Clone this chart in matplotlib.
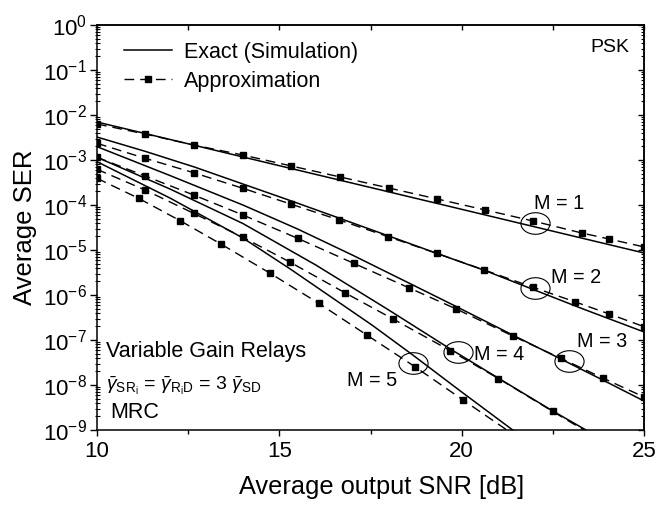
import numpy as np
import matplotlib
matplotlib.use("Agg")
import matplotlib.pyplot as plt
from matplotlib.path import Path
from matplotlib.transforms import Affine2D
from matplotlib.ticker import LogLocator, NullFormatter, FixedLocator

# ---------------- data ----------------
# Exact (simulation) curves
snr_e1 = [10, 12.5, 15, 17.5, 20, 22.5, 25]
ser_e1 = [6.99e-3, 2.29e-3, 7.47e-4, 2.45e-4, 8.02e-5, 2.62e-5, 8.58e-6]

snr_e2 = [10, 11.33, 12.67, 14, 15.33, 16.67, 18, 19.33, 20.67, 22, 23.33, 25]
ser_e2 = [3.24e-3, 1.55e-3, 6.99e-4, 2.93e-4, 1.23e-4, 5.01e-5, 2.05e-5,
          8.36e-6, 3.42e-6, 1.29e-6, 4.89e-7, 1.51e-7]

snr_e3 = [10, 12, 14, 15.5, 17, 18.55, 19.85, 21.4, 22.72, 24, 25]
ser_e3 = [1.98e-3, 4.52e-4, 1.0e-4, 2.93e-5, 7.74e-6, 1.85e-6, 5.55e-7,
          1.29e-7, 3.78e-8, 1.14e-8, 4.41e-9]

snr_e4 = [10, 12, 14, 16, 18, 19.69, 21, 22.5, 23.6]
ser_e4 = [1.15e-3, 2.27e-4, 3.88e-5, 4.64e-6, 4.64e-7, 6.31e-8, 1.43e-8,
          2.64e-9, 8.15e-10]

snr_e5 = [10, 12, 14, 15.3, 17.54, 18.66, 20, 21.4, 21.7]
ser_e5 = [9.17e-4, 1.43e-4, 1.85e-5, 3.78e-6, 2.15e-7, 4.64e-8, 6.99e-9,
          1.0e-9, 6.64e-10]

# Approximation curves (marker points)
snr_a1 = [10, 11.32, 12.65, 14.0, 15.33, 16.67, 18.0, 19.33, 20.65, 21.96,
          23.29, 24.05, 25]
ser_a1 = [6.31e-3, 3.78e-3, 2.15e-3, 1.29e-3, 7.36e-4, 4.19e-4, 2.39e-4,
          1.36e-4, 7.74e-5, 4.41e-5, 2.39e-5, 1.75e-5, 1.17e-5]

snr_a2 = [10, 11.32, 12.65, 14.0, 15.31, 16.64, 17.98, 19.31, 20.62, 21.96,
          23.10, 24.05, 25]
ser_a2 = [2.35e-3, 1.09e-3, 5.22e-4, 2.35e-4, 1.05e-4, 4.64e-5, 1.98e-5,
          8.45e-6, 3.59e-6, 1.48e-6, 7.10e-7, 3.78e-7, 1.98e-7]

snr_a3 = [10, 11.32, 12.65, 14.0, 15.50, 17.04, 18.55, 19.85, 21.40, 22.72,
          23.87, 25]
ser_a3 = [1.15e-3, 4.41e-4, 1.67e-4, 6.0e-5, 1.82e-5, 5.06e-6, 1.45e-6,
          4.89e-7, 1.23e-7, 3.92e-8, 1.43e-8, 5.41e-9]

snr_a4 = [10, 11.32, 12.65, 14.0, 15.30, 16.80, 18.12, 19.69, 21.01, 22.50, 23.8]
ser_a4 = [6.21e-4, 2.15e-4, 6.54e-5, 1.92e-5, 5.33e-6, 1.12e-6, 2.93e-7,
          5.78e-8, 1.39e-8, 2.58e-9, 6.0e-10]

snr_a5 = [10, 11.14, 12.28, 13.41, 14.75, 16.08, 17.40, 18.73, 20.05, 21.4]
ser_a5 = [3.92e-4, 1.41e-4, 4.48e-5, 1.34e-5, 3.03e-6, 6.54e-7, 1.29e-7,
          2.51e-8, 4.57e-9, 8.15e-10]

m_labels = ["M = 1", "M = 2", "M = 3", "M = 4", "M = 5"]
xticks = [10, 15, 20, 25]

exact = [(snr_e1, ser_e1), (snr_e2, ser_e2), (snr_e3, ser_e3),
         (snr_e4, ser_e4), (snr_e5, ser_e5)]
approx = [(snr_a1, ser_a1), (snr_a2, ser_a2), (snr_a3, ser_a3),
          (snr_a4, ser_a4), (snr_a5, ser_a5)]

# ---------------- style ----------------
plt.rcParams['font.family'] = ['Liberation Sans', 'DejaVu Sans']
plt.rcParams['mathtext.fontset'] = 'custom'
plt.rcParams['mathtext.rm'] = 'Liberation Sans'
plt.rcParams['mathtext.it'] = 'Liberation Sans:italic'
plt.rcParams['mathtext.bf'] = 'Liberation Sans:bold'
plt.rcParams['axes.linewidth'] = 1.1

fig = plt.figure(figsize=(6.58, 5.05), dpi=100)
ax = fig.add_axes([97 / 658, 1 - 430 / 505, (644 - 97) / 658, (430 - 25) / 505])

for i, (x, y) in enumerate(exact):
    ax.plot(x, y, color='black', lw=1.1, ls='-',
            label='Exact (Simulation)' if i == 0 else None)
for i, (x, y) in enumerate(approx):
    ax.plot(x, y, color='black', lw=1.0, ls='--', dashes=(7, 4.3),
            marker='s', ms=4.2, mfc='black', mec='black',
            label='Approximation' if i == 0 else None)

ax.set_yscale('log')
ax.set_xlim(10, 25)
ax.set_ylim(1e-9, 1)

ax.yaxis.set_major_locator(LogLocator(base=10, numticks=20))
ax.yaxis.set_minor_locator(LogLocator(base=10, subs=np.arange(2, 10), numticks=200))
ax.yaxis.set_minor_formatter(NullFormatter())
ax.set_xticks(xticks)
ax.xaxis.set_minor_locator(FixedLocator([12.5, 17.5, 22.5]))

ax.tick_params(axis='x', which='major', direction='out', length=4.5, width=1.0,
               labelsize=16, pad=3.5, top=False)
ax.tick_params(axis='x', which='minor', direction='out', length=3, width=1.0, top=False)
ax.tick_params(axis='y', which='major', direction='out', length=5, width=1.0,
               labelsize=16, pad=2, right=False)
ax.tick_params(axis='y', which='minor', direction='inout', length=3.6, width=0.8,
               right=False)

secx = ax.secondary_xaxis('top')
secx.xaxis.set_major_locator(FixedLocator([10, 12.5, 15, 17.5, 20, 22.5, 25]))
secx.tick_params(direction='in', length=3.5, width=1.0, labeltop=False)

secy = ax.secondary_yaxis('right')
secy.yaxis.set_major_locator(LogLocator(base=10, numticks=20))
secy.yaxis.set_minor_locator(LogLocator(base=10, subs=np.arange(2, 10), numticks=200))
secy.tick_params(which='major', direction='in', length=4, width=1.0, labelright=False)
secy.tick_params(which='minor', direction='in', length=2.5, width=0.8, labelright=False)
secy.yaxis.set_minor_formatter(NullFormatter())

ax.set_xlabel('Average output SNR [dB]', fontsize=18.3)
ax.xaxis.set_label_coords(0.521, -0.112)
ax.set_ylabel('Average SER', fontsize=18.5)
ax.yaxis.set_label_coords(-0.109, 0.5)

leg = ax.legend(loc='upper left', bbox_to_anchor=(0.049, 0.958), frameon=False,
                fontsize=15.5, handlelength=2.25, handletextpad=0.55,
                labelspacing=0.36, borderaxespad=0, borderpad=0, numpoints=1)

ax.text(0.9726, 0.9333, 'PSK', transform=ax.transAxes, ha='right',
        va='baseline', fontsize=14)
ax.text(0.0165, 0.1802, 'Variable Gain Relays', transform=ax.transAxes,
        ha='left', va='baseline', fontsize=15.5)
ax.text(0.0165, 0.0988,
        r'$\bar{\gamma}_{\mathrm{SR_i}}$ = $\bar{\gamma}_{\mathrm{R_iD}}$ = 3 $\bar{\gamma}_{\mathrm{SD}}$',
        transform=ax.transAxes, ha='left', va='baseline', fontsize=14)
ax.text(0.0238, 0.0296, 'MRC', transform=ax.transAxes, ha='left',
        va='baseline', fontsize=15.5)

# M labels and ellipses (annotation layout, axes fractions)
label_pos = [(0.7983, 0.5457), (0.8294, 0.3630), (0.8775, 0.2049),
             (0.6892, 0.1728), (0.4570, 0.1086)]
ell_pos = [(0.8016, 0.5111), (0.8007, 0.3506), (0.8634, 0.1696),
           (0.6600, 0.1914), (0.5773, 0.1649)]
ell_path = Path.unit_circle().transformed(Affine2D().scale(1.0, 0.74))
for lab, (lx, ly), (ex, ey) in zip(m_labels, label_pos, ell_pos):
    ax.text(lx, ly, lab, transform=ax.transAxes, ha='left', va='baseline',
            fontsize=14.3)
    ax.plot([ex], [ey], transform=ax.transAxes, marker=ell_path, ms=21,
            mfc='none', mec='black', mew=0.8, ls='none', clip_on=False)

fig.savefig('out.png', dpi=100)
